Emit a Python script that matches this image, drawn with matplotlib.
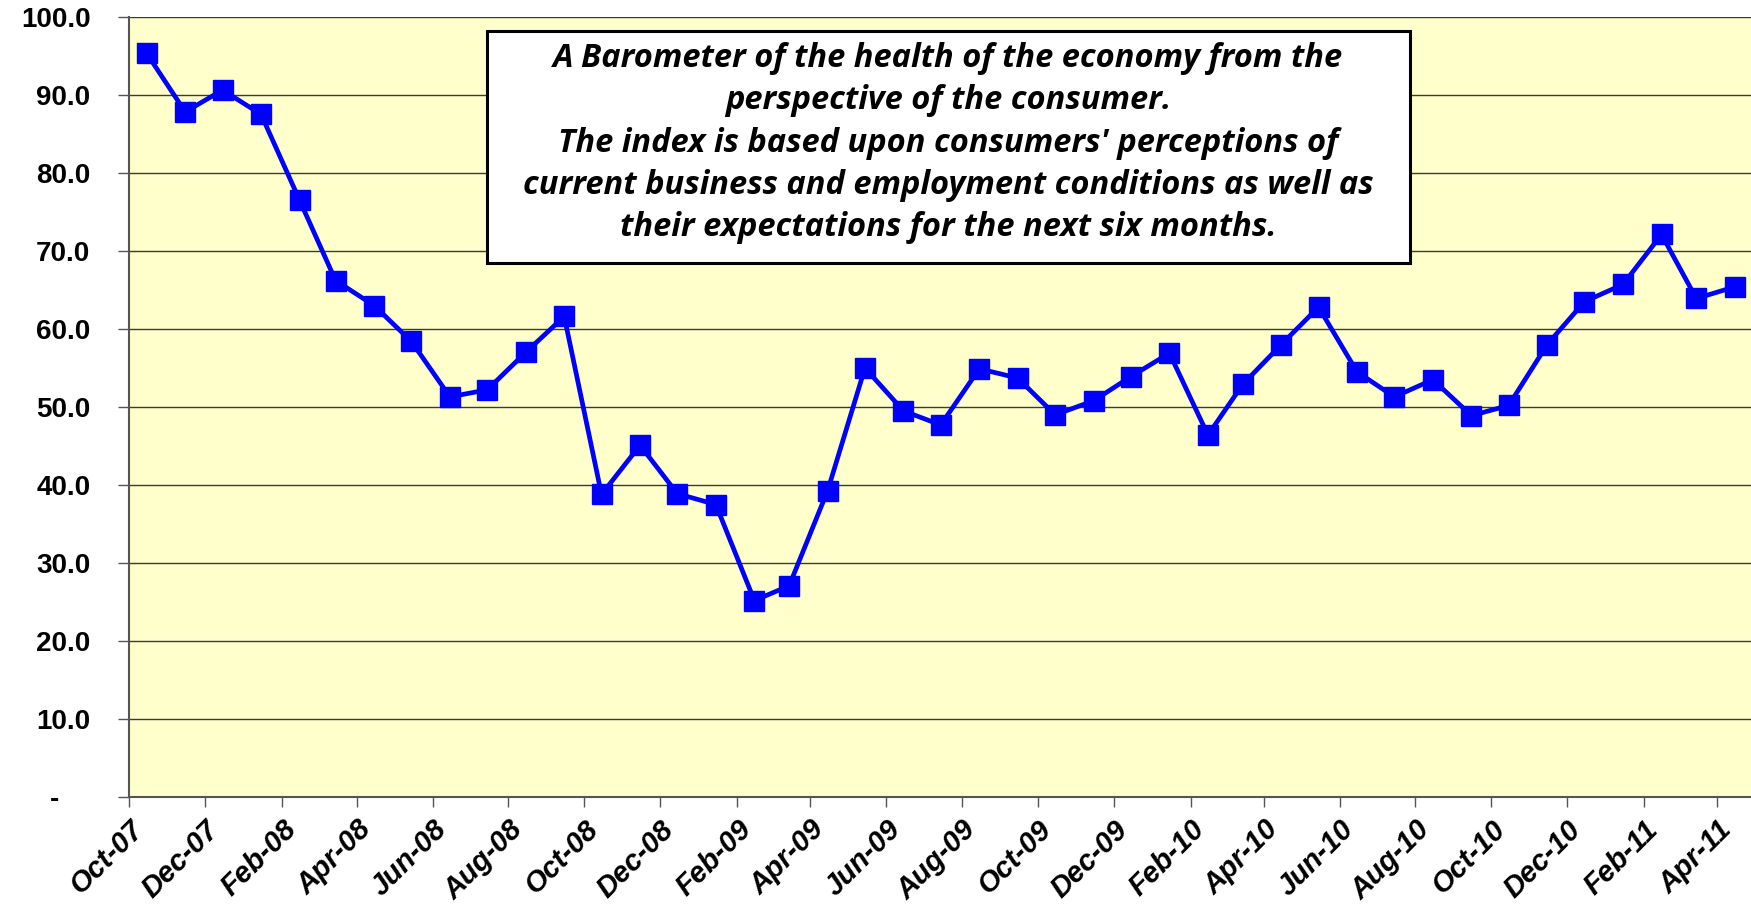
import numpy as np
import pandas as pd
import matplotlib
matplotlib.use('Agg')
import matplotlib.pyplot as plt
import matplotlib.dates as mdates
from matplotlib.patches import Rectangle

# monthly index values, Oct-07 .. Apr-11
values = [95.3, 87.8, 90.6, 87.5, 76.5, 66.2, 63.0, 58.4, 51.3, 52.2, 57.0, 61.6,
          38.8, 45.1, 38.9, 37.5, 25.2, 27.1, 39.3, 55.0, 49.5, 47.7, 54.9, 53.7,
          49.0, 50.8, 53.9, 56.9, 46.4, 52.9, 58.0, 62.8, 54.5, 51.3, 53.5, 48.9,
          50.2, 58.0, 63.5, 65.7, 72.1, 63.9, 65.4]
months = pd.date_range('2007-10-01', periods=len(values), freq='MS') + pd.Timedelta(days=14)
y_ticks = [0, 10, 20, 30, 40, 50, 60, 70, 80, 90, 100]
note = ("A Barometer of the health of the economy from the\n"
        "perspective of the consumer.\n"
        "The index is based upon consumers' perceptions of\n"
        "current business and employment conditions as well as\n"
        "their expectations for the next six months.")

fig = plt.figure(figsize=(17.51, 9.05), dpi=100)
W, H = 1751, 905
ax = fig.add_axes([129.3 / W, 1 - 797.3 / H, 1 - 129.3 / W, (797.3 - 16.7) / H])
ax.set_facecolor('#FFFFCC')

ax.plot(months, values, color='#0000FF', lw=3.4, marker='s', ms=14,
        markerfacecolor='#0000FF', markeredgecolor='#0000FF', zorder=3)

ax.set_ylim(0, 100)
ax.set_xlim(pd.Timestamp('2007-10-01'), pd.Timestamp('2011-04-28'))
ax.set_yticks(y_ticks)
ax.set_yticklabels(['-    ' if v == 0 else f'{v:.1f}' for v in y_ticks])
ax.grid(axis='y', color='#3a3a3a', lw=1.0)
ax.set_axisbelow(True)

ax.xaxis.set_major_locator(mdates.MonthLocator(bymonth=[2, 4, 6, 8, 10, 12]))
ax.xaxis.set_major_formatter(mdates.DateFormatter('%b-%y'))

for s in ['top', 'right']:
    ax.spines[s].set_visible(False)
for s in ['left', 'bottom']:
    ax.spines[s].set_color('#555555')
    ax.spines[s].set_linewidth(1.5)

ax.tick_params(axis='y', length=8, width=1, color='#555555', pad=20)
ax.tick_params(axis='x', length=7, width=1, color='#555555', pad=6)
for lab in ax.get_yticklabels():
    lab.set_fontfamily('Liberation Sans')
    lab.set_fontweight('bold')
    lab.set_fontsize(20)
for lab in ax.get_xticklabels():
    lab.set_fontfamily('Liberation Sans')
    lab.set_fontweight('bold')
    lab.set_fontstyle('italic')
    lab.set_fontsize(21)
    lab.set_rotation(45)
    lab.set_ha('right')
    lab.set_va('top')
    lab.set_rotation_mode('anchor')

# note box
fig.patches.append(Rectangle((487 / W, 1 - 263 / H), (1410 - 487) / W, (263 - 31) / H,
                             transform=fig.transFigure, facecolor='white',
                             edgecolor='black', lw=2.2, zorder=5))
fig.text(948.5 / W, 1 - 143 / H, note, ha='center', va='center', fontsize=23.5,
         family='Open Sans', weight='bold', style='italic', linespacing=1.37, zorder=6)

fig.savefig('out.png', dpi=100)
